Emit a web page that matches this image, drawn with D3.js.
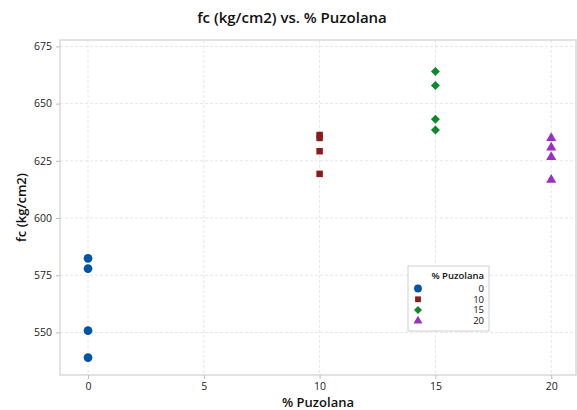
<!DOCTYPE html>
<html>
<head>
<meta charset="utf-8">
<script src="https://cdn.jsdelivr.net/npm/d3@7"></script>
<style>
  body { margin: 0; background: #fff; }
  svg text { font-family: "Open Sans", "Noto Sans", sans-serif; }
</style>
</head>
<body>
<svg id="chart" width="577" height="410"></svg>
<script>
// Values
const groups = [0, 10, 15, 20]
const fc0 = [582.4, 577.9, 550.8, 539.0]
const fc10 = [636.3, 635.0, 629.2, 619.3]
const fc15 = [664.0, 657.9, 643.2, 638.5]
const fc20 = [634.9, 630.8, 626.6, 616.7]
const xTicks = [0, 5, 10, 15, 20]
const yTicks = [550, 575, 600, 625, 650, 675]
const colors = ["#0054a6", "#8b1a1a", "#0a8a2a", "#9b30c0"]
const symbols = [d3.symbolCircle, d3.symbolSquare, d3.symbolSquare, d3.symbolTriangle]
const rotations = [0, 0, 45, 0]
const sizes = [60, 42, 40, 44]

const series = [fc0, fc10, fc15, fc20]

const svg = d3.select("#chart")
const frame = {left: 60, right: 576, top: 40, bottom: 375}

const x = d3.scaleLinear().domain([-1.21, 21.07]).range([frame.left, frame.right])
const y = d3.scaleLinear().domain([531.4, 677.8]).range([frame.bottom, frame.top])

// grid
svg.append("g")
  .selectAll("line")
  .data(xTicks)
  .join("line")
  .attr("x1", d => x(d)).attr("x2", d => x(d))
  .attr("y1", frame.top).attr("y2", frame.bottom)
  .attr("stroke", "#e6e6e6").attr("stroke-dasharray", "3,2")

svg.append("g")
  .selectAll("line")
  .data(yTicks)
  .join("line")
  .attr("y1", d => y(d)).attr("y2", d => y(d))
  .attr("x1", frame.left).attr("x2", frame.right)
  .attr("stroke", "#e6e6e6").attr("stroke-dasharray", "3,2")

// frame
svg.append("rect")
  .attr("x", frame.left).attr("y", frame.top)
  .attr("width", frame.right - frame.left).attr("height", frame.bottom - frame.top)
  .attr("fill", "none").attr("stroke", "#d9d9d9").attr("stroke-width", 1.5)

// axes
const xAxis = svg.append("g")
  .attr("transform", `translate(0,${frame.bottom})`)
  .call(d3.axisBottom(x).tickValues(xTicks).tickSize(4).tickPadding(4))
const yAxis = svg.append("g")
  .attr("transform", `translate(${frame.left},0)`)
  .call(d3.axisLeft(y).tickValues(yTicks).tickSize(4).tickPadding(4))

for (const ax of [xAxis, yAxis]) {
  ax.select(".domain").remove()
  ax.selectAll(".tick line").attr("stroke", "#bdbdbd")
  ax.selectAll(".tick text").attr("fill", "#222").style("font-size", "10.5px")
}

// points
series.forEach((vals, i) => {
  svg.append("g")
    .selectAll("path")
    .data(vals)
    .join("path")
    .attr("transform", d => `translate(${x(groups[i])},${y(d)}) rotate(${rotations[i]})`)
    .attr("d", d3.symbol().type(symbols[i]).size(sizes[i]))
    .attr("fill", colors[i])
})

// titles
svg.append("text")
  .attr("x", 292).attr("y", 23)
  .attr("text-anchor", "middle")
  .style("font-size", "15px").style("font-weight", 600)
  .attr("fill", "#111")
  .text("fc (kg/cm2) vs. % Puzolana")

svg.append("text")
  .attr("x", (frame.left + frame.right) / 2).attr("y", 407)
  .attr("text-anchor", "middle")
  .style("font-size", "13px").style("font-weight", 600)
  .attr("fill", "#111")
  .text("% Puzolana")

svg.append("text")
  .attr("transform", `translate(26,${(frame.top + frame.bottom) / 2}) rotate(-90)`)
  .attr("text-anchor", "middle")
  .style("font-size", "13px").style("font-weight", 600)
  .attr("fill", "#111")
  .text("fc (kg/cm2)")

// legend
const lg = svg.append("g").attr("transform", "translate(408,266)")
lg.append("rect")
  .attr("width", 81).attr("height", 65)
  .attr("fill", "#fff").attr("stroke", "#cfcfcf")
lg.append("text")
  .attr("x", 76).attr("y", 13)
  .attr("text-anchor", "end")
  .style("font-size", "9.5px").style("font-weight", 600)
  .attr("fill", "#111")
  .text("% Puzolana")
groups.forEach((g, i) => {
  const yy = 22.5 + i * 10.8
  lg.append("path")
    .attr("transform", `translate(10,${yy}) rotate(${rotations[i]})`)
    .attr("d", d3.symbol().type(symbols[i]).size(sizes[i] * 0.8))
    .attr("fill", colors[i])
  lg.append("text")
    .attr("x", 76).attr("y", yy + 3.3)
    .attr("text-anchor", "end")
    .style("font-size", "9.5px")
    .attr("fill", "#111")
    .text(g)
})
</script>
</body>
</html>
